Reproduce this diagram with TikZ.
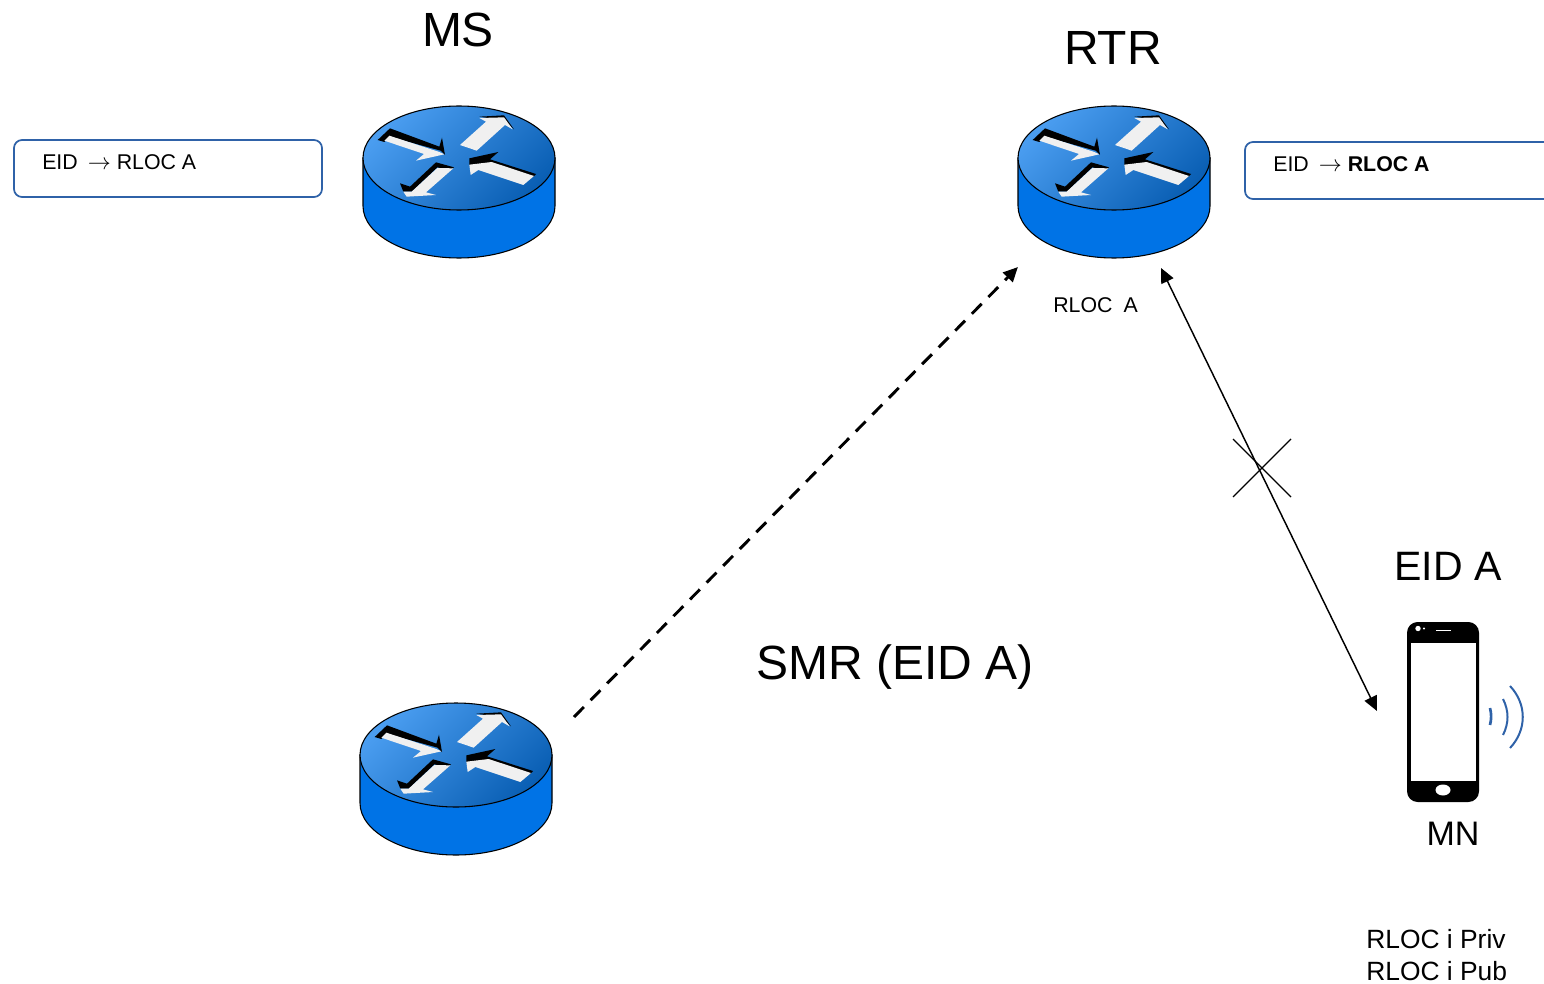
\documentclass[tikz,border=0pt]{standalone}
\usepackage{fontspec}
\setmainfont{Liberation Sans}
\usetikzlibrary{arrows.meta}
\definecolor{routerbody}{HTML}{0073E6}
\definecolor{routerlight}{HTML}{4A9DF0}
\definecolor{routerdark}{HTML}{0A5FB4}
\definecolor{boxblue}{HTML}{2F62A8}
\definecolor{arrowwhite}{HTML}{F0F0F0}
\tikzset{
	hugelabel/.style={anchor=base, inner sep=0pt, font=\fontsize{36}{40}\selectfont},
	biglabel/.style={anchor=base, inner sep=0pt, font=\fontsize{30.8}{34}\selectfont},
	midlabel/.style={anchor=base, inner sep=0pt, font=\fontsize{25.5}{30}\selectfont},
	addrlabel/.style={anchor=base west, inner sep=0pt, font=\fontsize{19.8}{24}\selectfont},
	smalllabel/.style={anchor=base west, inner sep=0pt, font=\fontsize{16}{19}\selectfont},
	mapbox/.style={draw=boxblue, line width=1.3pt, rounded corners=6pt},
	wave/.style={draw=boxblue, line width=1.5pt},
}
\def\routerico(#1){
	\begin{scope}[shift={(#1)}]
		\fill[routerbody, draw=black, line width=0.8pt] (-96, 0) -- (-96, 48) arc (180:0:96 and 52) -- (96, 0) -- cycle;
		\shade[top color=routerlight, bottom color=routerdark, shading angle=45, draw=black, line width=0.8pt] (0, 0) ellipse (96 and 52);
		\begin{scope}[x=0.25pt, y=-0.25pt, shift={(-327, -204)}]
			\fill[black] (83, 150) -- (120, 115) -- (268, 170) -- (276, 143) -- (285, 195) -- (272, 182) -- (118, 140) -- (103, 156) -- cycle;
			\fill[arrowwhite] (103, 152) -- (118, 137) -- (268, 186) -- (283, 193) -- (198, 212) -- (222, 192) -- cycle;
			\fill[black] (388, 80) -- (462, 76) -- (492, 118) -- (465, 92) -- cycle;
			\fill[arrowwhite] (330, 165) -- (408, 95) -- (388, 84) -- (462, 82) -- (488, 118) -- (465, 105) -- (380, 182) -- cycle;
			\fill[black] (358, 205) -- (445, 186) -- (420, 208) -- (558, 252) -- (550, 260) -- (430, 224) -- (358, 226) -- cycle;
			\fill[arrowwhite] (358, 224) -- (425, 216) -- (552, 258) -- (520, 285) -- (385, 240) -- (362, 255) -- cycle;
			\fill[black] (150, 280) -- (180, 290) -- (258, 217) -- (312, 232) -- (300, 240) -- (262, 232) -- (185, 305) -- (160, 305) -- cycle;
			\fill[arrowwhite] (310, 235) -- (228, 307) -- (258, 315) -- (170, 320) -- (160, 305) -- (185, 305) -- (262, 234) -- cycle;
		\end{scope}
	\end{scope}
}
\begin{document}
\begin{tikzpicture}[x=0.75pt, y=-0.75pt, >={Triangle[length=11pt, width=10pt]}]
		%%%%% START %%%%%
		\useasboundingbox (0, 0) rectangle (1544, 984);
		
		\routerico(459, 158)
		\routerico(1114, 158)
		\routerico(456, 755)
		
		\node[hugelabel] (mslabel) at (458, 47) {MS};
		\node[hugelabel] (rtrlabel) at (1113, 65) {RTR};
		\node[hugelabel] (smrlabel) at (895, 679) {SMR (EID A)};
		\node[biglabel] (eidlabel) at (1448, 580) {EID A};
		\node[midlabel] (mnlabel) at (1453, 845) {MN};
		
		\draw[mapbox] (14, 140) rectangle (322, 197);
		\node[smalllabel] (mapms) at (42, 170) {EID\kern 7.5pt$\rightarrow$ RLOC A};
		\draw[mapbox] (1570, 142) -- (1245, 142) -- (1245, 199) -- (1570, 199);
		\node[smalllabel] (maprtr) at (1273, 172) {EID\kern 7.5pt$\rightarrow$ \textbf{RLOC A}};
		\node[smalllabel] (rloca) at (1053, 312) {RLOC\kern 8.3pt A};
		\node[addrlabel] (rlocpriv) at (1366, 948) {RLOC i Priv};
		\node[addrlabel] (rlocpub) at (1366, 980) {RLOC i Pub};
		
		\coordinate (smrstart) at (574, 717);
		\coordinate (smrend) at (1018, 267);
		\coordinate (rtrend) at (1161, 268);
		\coordinate (mnend) at (1377, 711);
		\draw[line width=2.2pt, dash pattern=on 10.5pt off 7.2pt, ->] (smrstart) -- (smrend);
		\draw[line width=1.1pt, <->] (rtrend) -- (mnend);
		
		\coordinate (crossa) at (1233, 439);
		\coordinate (crossb) at (1291, 497);
		\coordinate (crossc) at (1291, 439);
		\coordinate (crossd) at (1233, 497);
		\draw[line width=0.9pt] (crossa) -- (crossb);
		\draw[line width=0.9pt] (crossc) -- (crossd);
		
		\fill[black, rounded corners=8pt] (1407, 622) rectangle (1479, 802);
		\fill[white] (1411, 643) rectangle (1476, 781);
		\fill[white] (1443, 790) ellipse (7.5 and 5.5);
		\draw[white, line width=1.2pt] (1436, 630.5) -- (1451, 630.5);
		\fill[white] (1418, 628.5) circle (2.7);
		\fill[white] (1424, 628.5) circle (1.2);
		
		\draw[wave, line width=2pt] (1490, 708) .. controls (1491.5, 714) and (1491.5, 719) .. (1490, 725);
		\draw[wave] (1503, 699) .. controls (1509, 711) and (1509, 723) .. (1503, 735);
		\draw[wave] (1510, 686) .. controls (1527, 704) and (1527, 730) .. (1510, 748);
		
		%%%%% END %%%%%
	\end{tikzpicture}
\end{document}
